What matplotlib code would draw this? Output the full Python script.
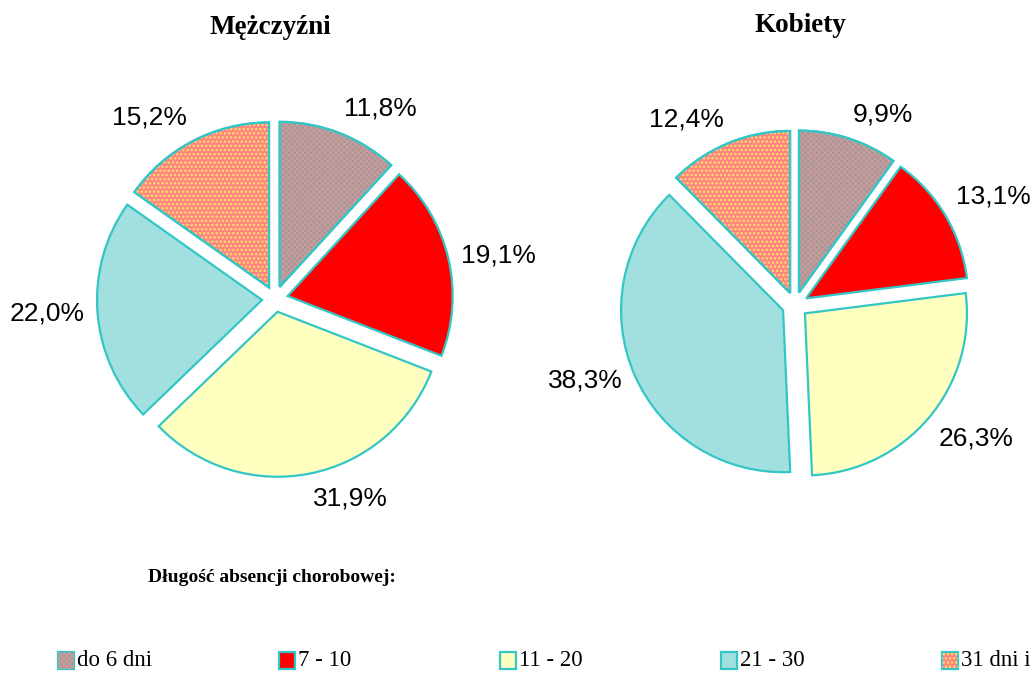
import numpy as np
import matplotlib
matplotlib.use("Agg")
import matplotlib.pyplot as plt
from matplotlib.patches import Wedge, Rectangle

# sick-leave length categories and their shares (%)
categories = ["do 6 dni", "7 - 10", "11 - 20", "21 - 30", "31 dni i"]
men_share = [11.8, 19.1, 31.9, 22.0, 15.2]
women_share = [9.9, 13.1, 26.3, 38.3, 12.4]
group_titles = ["Mężczyźni", "Kobiety"]
legend_title = "Długość absencji chorobowej:"

colors = ["#9a9898", "#ff0000", "#ffffc0", "#a2dfdf", "#ff8480"]
hatches = ["xxxxxx", None, None, None, "...."]
hatch_colors = ["#c89a9a", None, None, None, "#ffe070"]
edge = "#33c6c6"

W, H = 1033, 673
fig = plt.figure(figsize=(W / 100, H / 100), dpi=100)
ax = fig.add_axes([0, 0, 1, 1])

serif = "Liberation Serif"
sans = "Liberation Sans"
plt.rcParams["hatch.linewidth"] = 1.2


def fmt(v):
    return f"{v:.1f}%".replace(".", ",")


def draw_pie(values, cx, cy, r, title, title_xy):
    wedges, texts = ax.pie(
        values,
        explode=[13] * len(values),
        center=(cx, H - cy),
        radius=r,
        startangle=90,
        counterclock=False,
        colors=colors,
        labels=[fmt(v) for v in values],
        labeldistance=1.08,
        textprops=dict(fontsize=19, family=sans),
        wedgeprops=dict(edgecolor=edge, linewidth=1.6),
    )
    # labels sit just outside the rim, anchored by the corner facing the pie
    for w, t in zip(wedges, texts):
        ang = np.deg2rad((w.theta1 + w.theta2) / 2)
        c, s = np.cos(ang), np.sin(ang)
        t.set_ha("left" if c > 0 else "right")
        t.set_va("bottom" if s > 0.45 else ("top" if s < -0.45 else "center"))
    # patterned fills: hatch layer then the outline again on top
    for w, h, hc in zip(wedges, hatches, hatch_colors):
        if h is None:
            continue
        ax.add_patch(Wedge(w.center, w.r, w.theta1, w.theta2, facecolor="none",
                           edgecolor=hc, hatch=h, linewidth=0))
        ax.add_patch(Wedge(w.center, w.r, w.theta1, w.theta2, facecolor="none",
                           edgecolor=edge, linewidth=1.6))
    ax.text(title_xy[0], H - title_xy[1], title, ha="center", va="center",
            fontsize=19.5, fontweight="bold", family=serif)


draw_pie(men_share, 275, 299, 165, group_titles[0], (270, 28))
draw_pie(women_share, 795, 305, 162, group_titles[1], (800, 25))

ax.text(148, H - 577, legend_title, ha="left", va="center",
        fontsize=14, fontweight="bold", family=serif)

# legend row, equal-width columns
for i, (lab, c, h, hc) in enumerate(zip(categories, colors, hatches, hatch_colors)):
    x0 = 58 + i * 221
    ax.add_patch(Rectangle((x0, H - 669), 16, 17, facecolor=c, edgecolor=edge,
                           linewidth=1.6))
    if h is not None:
        ax.add_patch(Rectangle((x0, H - 669), 16, 17, facecolor="none",
                               edgecolor=hc, hatch=h, linewidth=0))
    ax.text(x0 + 19, H - 660, lab, ha="left", va="center", fontsize=16.5,
            family=serif)

ax.set_xlim(0, W)
ax.set_ylim(0, H)
ax.set_aspect("auto")
ax.axis("off")

fig.savefig("out.png", dpi=100)
